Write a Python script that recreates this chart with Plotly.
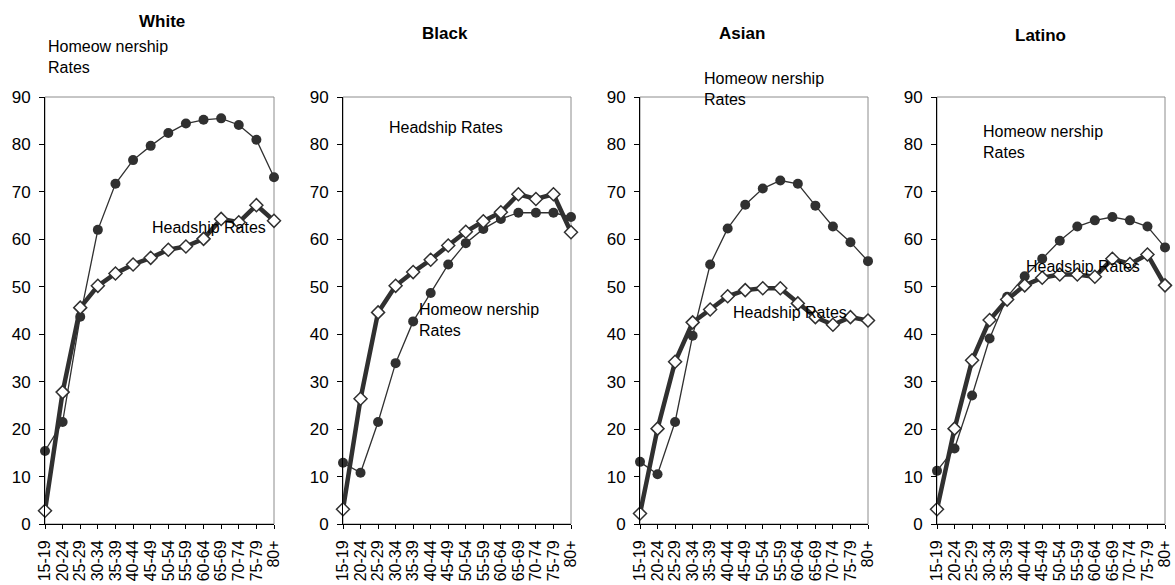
import plotly.graph_objects as go

# Age groups on the horizontal axis
age_groups = ["15-19", "20-24", "25-29", "30-34", "35-39", "40-44", "45-49",
              "50-54", "55-59", "60-64", "65-69", "70-74", "75-79", "80+"]

groups = ["White", "Black", "Asian", "Latino"]

# Homeownership rates (%) by age group
homeownership_white = [15.4, 21.5, 43.7, 62.0, 71.7, 76.7, 79.7, 82.4, 84.4, 85.2, 85.5, 84.1, 81.0, 73.1]
homeownership_black = [12.9, 10.8, 21.5, 33.9, 42.7, 48.7, 54.7, 59.2, 62.2, 64.3, 65.6, 65.6, 65.6, 64.7]
homeownership_asian = [13.1, 10.5, 21.5, 39.7, 54.7, 62.3, 67.3, 70.7, 72.4, 71.7, 67.1, 62.7, 59.4, 55.4]
homeownership_latino = [11.2, 15.9, 27.1, 39.1, 47.9, 52.2, 55.9, 59.7, 62.7, 64.0, 64.7, 64.0, 62.7, 58.3]

# Headship rates (%) by age group
headship_white = [2.8, 27.8, 45.6, 50.2, 52.8, 54.7, 56.1, 57.8, 58.5, 60.1, 64.3, 63.6, 67.2, 63.9]
headship_black = [3.1, 26.4, 44.6, 50.2, 53.1, 55.7, 58.7, 61.6, 63.8, 65.7, 69.5, 68.5, 69.5, 61.5]
headship_asian = [2.2, 20.1, 34.2, 42.5, 45.2, 48.0, 49.3, 49.7, 49.7, 46.5, 43.6, 42.0, 43.6, 42.9]
headship_latino = [3.1, 20.1, 34.5, 43.0, 47.3, 50.3, 51.9, 52.6, 52.6, 52.1, 55.9, 54.8, 56.8, 50.3]

homeownership = [homeownership_white, homeownership_black, homeownership_asian, homeownership_latino]
headship = [headship_white, headship_black, headship_asian, headship_latino]

W, H = 1175, 585
FONT = "Arial, Liberation Sans, sans-serif"
INK = "#303030"


def px(x, y):
    """Convert pixel position to paper coordinates."""
    return x / W, 1 - y / H


# plot area edges in pixels: (left, right) per panel, shared top/bottom
panel_x = [(45, 274), (343, 571), (640, 868), (937, 1165)]
top_px, bottom_px = 97, 524

fig = go.Figure()

for i, name in enumerate(groups):
    n = "" if i == 0 else str(i + 1)
    xa, ya = "x" + n, "y" + n
    fig.add_trace(go.Scatter(
        x=age_groups, y=headship[i], xaxis=xa, yaxis=ya, mode="lines",
        line=dict(color=INK, width=4.5), cliponaxis=False, showlegend=False,
        hoverinfo="skip"))
    fig.add_trace(go.Scatter(
        x=age_groups, y=homeownership[i], xaxis=xa, yaxis=ya, mode="lines+markers",
        line=dict(color=INK, width=1.3),
        marker=dict(symbol="circle", size=10, color=INK, line=dict(width=0)),
        cliponaxis=False, showlegend=False, name="Homeownership Rates"))
    fig.add_trace(go.Scatter(
        x=age_groups, y=headship[i], xaxis=xa, yaxis=ya, mode="markers",
        marker=dict(symbol="diamond", size=10, color="white",
                    line=dict(color=INK, width=1.5)),
        cliponaxis=False, showlegend=False, name="Headship Rates"))

    x0, x1 = panel_x[i]
    dom_x = [x0 / W, x1 / W]
    dom_y = [1 - bottom_px / H, 1 - top_px / H]
    fig.layout["xaxis" + n] = dict(
        domain=dom_x, anchor=ya, type="category", range=[0, 13],
        tickmode="array", tickvals=age_groups, ticktext=age_groups,
        showline=True, linecolor="black", linewidth=1,
        ticks="outside", ticklen=4, tickcolor="black", tickangle=-90,
        ticklabelstandoff=5, automargin=False,
        showgrid=False, zeroline=False,
        tickfont=dict(family=FONT, size=16, color="black"), fixedrange=True)
    fig.layout["yaxis" + n] = dict(
        domain=dom_y, anchor=xa, range=[0, 90], dtick=10, tick0=0,
        showline=True, linecolor="black", linewidth=1,
        ticks="outside", ticklen=5, tickcolor="black",
        ticklabelstandoff=5, automargin=False,
        showgrid=False, zeroline=False,
        tickfont=dict(family=FONT, size=17, color="black"), fixedrange=True)
    # grey frame around each plot area
    fig.add_shape(type="rect", xref=xa + " domain", yref=ya + " domain",
                  x0=0, x1=1, y0=0, y1=1, line=dict(color="#8c8c8c", width=1),
                  layer="below")

# panel titles
title_pos = [(162, 22), (445, 33), (742, 33), (1040, 35)]
for name, (tx, ty) in zip(groups, title_pos):
    ax, ay = px(tx, ty)
    fig.add_annotation(text="<b>" + name + "</b>", x=ax, y=ay, xref="paper", yref="paper",
                       xanchor="center", yanchor="middle", showarrow=False,
                       font=dict(family=FONT, size=17, color="black"))

# series labels: (text, left px, y px, anchor)
ho_text = "Homeow nership<br>Rates"
hs_text = "Headship Rates"
labels = [
    (ho_text, 46, 36, "top"), (hs_text, 150, 228, "middle"),
    (hs_text, 387, 127, "middle"), (ho_text, 417, 299, "top"),
    (ho_text, 702, 68, "top"), (hs_text, 731, 312, "middle"),
    (ho_text, 981, 121, "top"), (hs_text, 1024, 267, "middle"),
]
for text, lx, ly, anchor in labels:
    ax, ay = px(lx, ly)
    fig.add_annotation(text=text, x=ax, y=ay, xref="paper", yref="paper",
                       xanchor="left", yanchor=anchor, align="left", showarrow=False,
                       font=dict(family=FONT, size=16, color="black"))

fig.update_layout(width=W, height=H, margin=dict(l=0, r=0, t=0, b=0),
                  paper_bgcolor="white", plot_bgcolor="white",
                  font=dict(family=FONT, color="black"))

fig.write_html("out.html")
